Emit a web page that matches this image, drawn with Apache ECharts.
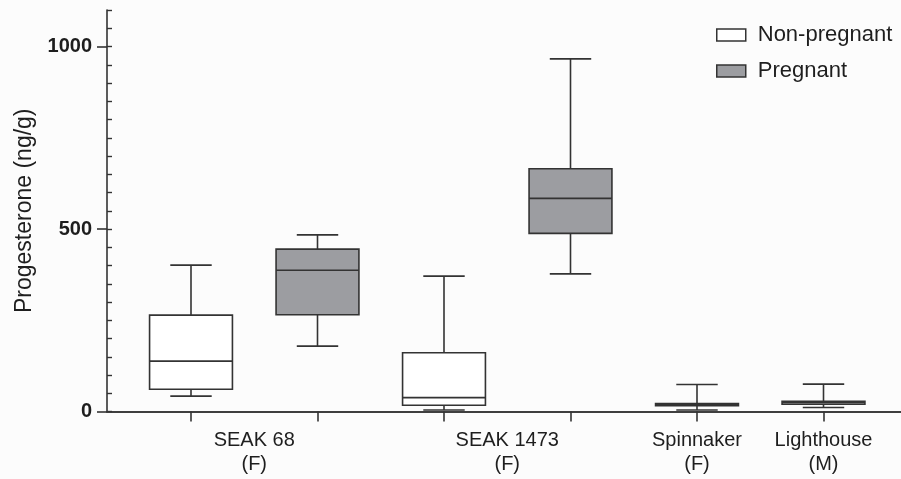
<!DOCTYPE html>
<html>
<head>
<meta charset="utf-8">
<script src="https://cdn.jsdelivr.net/npm/echarts@6/dist/echarts.min.js"></script>
<style>
  html, body { margin: 0; padding: 0; background: #fcfcfc; }
  #main { width: 901px; height: 479px; }
</style>
</head>
<body>
<div id="main"></div>
<script>
// group labels shown under the x axis
var groupLabels = ['SEAK 68\n(F)', 'SEAK 1473\n(F)', 'Spinnaker\n(F)', 'Lighthouse\n(M)'];
// which box slots belong to each group
var groupSlots = [[0, 1], [2, 3], [4], [5]];
var slotCount = 6;

// box data: [slot, min, Q1, median, Q3, max]
var nonPregnant = [
  [0, 42, 61, 138, 264, 401],
  [2, 4, 17, 38, 161, 371],
  [4, 4, 16, 19, 22, 74],
  [5, 11, 20, 24, 28, 75]
];
var pregnant = [
  [1, 179, 265, 387, 445, 484],
  [3, 377, 488, 584, 665, 966]
];

var yTicks = [0, 500, 1000];

var lineCol = '#333333';
var textCol = '#1e1e1e';
var greyFill = '#9c9da1';
var fontFam = '"Liberation Sans", Arial, sans-serif';

// slot category axis and a half-slot point axis for the group labels
var slotCats = [];
for (var i = 0; i < slotCount; i++) slotCats.push(String(i));
var halfCats = [];
for (var j = 0; j <= slotCount * 2; j++) halfCats.push('');
groupSlots.forEach(function (slots, g) {
  var mean = slots.reduce(function (a, b) { return a + b; }, 0) / slots.length;
  halfCats[Math.round(mean * 2 + 1)] = groupLabels[g];
});

function renderBox(fill) {
  return function (params, api) {
    var x = api.value(0);
    var pMin = api.coord([x, api.value(1)]);
    var pQ1 = api.coord([x, api.value(2)]);
    var pMed = api.coord([x, api.value(3)]);
    var pQ3 = api.coord([x, api.value(4)]);
    var pMax = api.coord([x, api.value(5)]);
    var bw = api.size([1, 0])[0] * 0.655;
    var cx = pMed[0];
    var style = { stroke: lineCol, lineWidth: 1.6, fill: null };
    function ln(x1, y1, x2, y2) {
      return { type: 'line', shape: { x1: x1, y1: y1, x2: x2, y2: y2 }, style: style };
    }
    return {
      type: 'group',
      children: [
        ln(cx, pQ3[1], cx, pMax[1]),
        ln(cx, pQ1[1], cx, pMin[1]),
        ln(cx - bw / 4, pMax[1], cx + bw / 4, pMax[1]),
        ln(cx - bw / 4, pMin[1], cx + bw / 4, pMin[1]),
        {
          type: 'rect',
          shape: { x: cx - bw / 2, y: pQ3[1], width: bw, height: pQ1[1] - pQ3[1] },
          style: { fill: fill, stroke: lineCol, lineWidth: 1.6 }
        },
        ln(cx - bw / 2, pMed[1], cx + bw / 2, pMed[1])
      ]
    };
  };
}

var chart = echarts.init(document.getElementById('main'));

var option = {
  backgroundColor: '#fcfcfc',
  animation: false,
  legend: {
    orient: 'vertical',
    left: 711,
    top: 19,
    itemWidth: 29,
    itemHeight: 12,
    itemGap: 14,
    icon: 'rect',
    textStyle: { fontFamily: fontFam, fontSize: 22, color: textCol, lineHeight: 22, padding: [0, 0, 0, 7] },
    data: [
      { name: 'Non-pregnant', itemStyle: { color: '#ffffff', borderColor: lineCol, borderWidth: 1.5 } },
      { name: 'Pregnant', itemStyle: { color: greyFill, borderColor: lineCol, borderWidth: 1.5 } }
    ]
  },
  grid: [
    { left: 107, right: 0, top: 10, bottom: 67.5 },
    { left: 127.75, right: 14.25, top: 10, bottom: 67.5 }
  ],
  xAxis: [
    {
      gridIndex: 0, type: 'value', position: 'bottom', min: 0, max: 1,
      axisLine: { show: true, lineStyle: { color: lineCol, width: 1.6 } },
      axisTick: { show: false }, axisLabel: { show: false }, splitLine: { show: false }
    },
    {
      gridIndex: 0, type: 'value', position: 'top', min: 0, max: 1,
      axisLine: { show: true, lineStyle: { color: lineCol, width: 1.6 } },
      axisTick: { show: false }, axisLabel: { show: false }, splitLine: { show: false }
    },
    {
      gridIndex: 1, type: 'category', data: slotCats, position: 'bottom',
      axisLine: { show: false },
      axisTick: { show: true, alignWithLabel: true, length: 10, lineStyle: { color: lineCol, width: 1.6 } },
      axisLabel: { show: false }
    },
    {
      gridIndex: 1, type: 'category', data: halfCats, position: 'bottom', boundaryGap: false,
      axisLine: { show: false }, axisTick: { show: false },
      axisLabel: {
        show: true, interval: 0, margin: 17,
        fontFamily: fontFam, fontSize: 20, color: textCol, lineHeight: 24, align: 'center'
      }
    }
  ],
  yAxis: [
    {
      gridIndex: 0, type: 'value', min: 0, max: 1100, interval: 500,
      name: 'Progesterone (ng/g)', nameLocation: 'middle', nameGap: 71,
      nameTextStyle: { fontFamily: fontFam, fontSize: 23, color: textCol },
      axisLine: { show: true, lineStyle: { color: lineCol, width: 1.6 } },
      axisTick: { show: true, length: 10, customValues: yTicks, lineStyle: { color: lineCol, width: 1.6 } },
      axisLabel: {
        customValues: yTicks, margin: 15,
        formatter: function (v) { return String(v); },
        fontFamily: fontFam, fontSize: 20, fontWeight: 'bold', color: textCol
      },
      splitLine: { show: false }
    },
    {
      gridIndex: 0, type: 'value', min: 0, max: 1100, interval: 50,
      axisLine: { show: false },
      axisTick: { show: true, length: 5, lineStyle: { color: lineCol, width: 1.4 } },
      axisLabel: { show: false }, splitLine: { show: false }
    },
    {
      gridIndex: 1, type: 'value', min: 0, max: 1100,
      axisLine: { show: false }, axisTick: { show: false }, axisLabel: { show: false }, splitLine: { show: false }
    }
  ],
  series: [
    {
      name: 'Non-pregnant', type: 'custom', xAxisIndex: 2, yAxisIndex: 2,
      itemStyle: { color: '#ffffff' },
      encode: { x: 0, y: [1, 2, 3, 4, 5] },
      renderItem: renderBox('#ffffff'),
      data: nonPregnant
    },
    {
      name: 'Pregnant', type: 'custom', xAxisIndex: 2, yAxisIndex: 2,
      itemStyle: { color: greyFill },
      encode: { x: 0, y: [1, 2, 3, 4, 5] },
      renderItem: renderBox(greyFill),
      data: pregnant
    }
  ]
};

chart.setOption(option);
</script>
</body>
</html>
